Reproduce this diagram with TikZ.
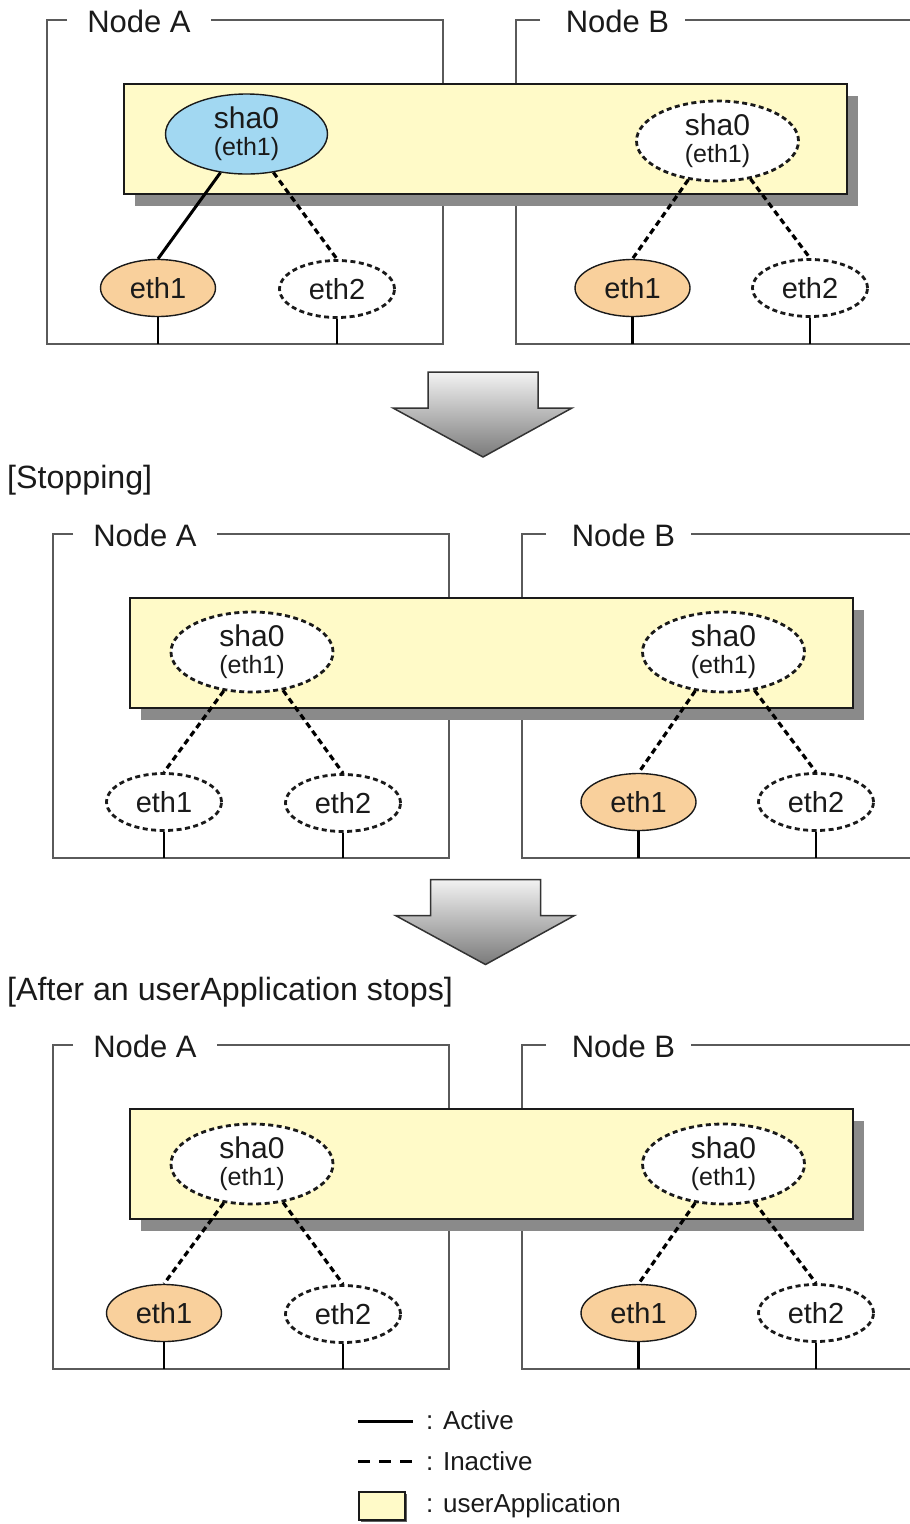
\documentclass[tikz,border=0pt]{standalone}
\usepackage{fontspec}
\setmainfont{Liberation Sans}
\usetikzlibrary{shapes.geometric}
\definecolor{txt}{HTML}{1A1A1A}
\definecolor{framegray}{HTML}{5A5A5A}
\definecolor{shadowgray}{HTML}{8A8A8A}
\definecolor{appyellow}{HTML}{FFFAC8}
\definecolor{shablue}{HTML}{A2D8F2}
\definecolor{ethorange}{HTML}{F9D09C}
\tikzset{
  frame/.style={draw=framegray, line width=2pt},
  nodelabel/.style={inner sep=0pt, text=txt, font=\fontsize{31}{33}\selectfont},
  app/.style={draw=txt, fill=appyellow, line width=1.6pt, inner sep=0pt},
  shabase/.style={ellipse, minimum width=162, minimum height=80, inner sep=0pt, align=center, text=txt, font=\fontsize{30}{27}\selectfont},
  shaon/.style={shabase, draw=txt, line width=1.4pt, fill=shablue},
  shaoff/.style={shabase, draw=txt, line width=2.8pt, dash pattern=on 5pt off 3.5pt, fill=white},
  ethbase/.style={ellipse, minimum width=115, minimum height=57, inner sep=0pt, text=txt, font=\fontsize{29}{30}\selectfont},
  ethon/.style={ethbase, draw=txt, line width=1.4pt, fill=ethorange},
  ethoff/.style={ethbase, draw=txt, line width=2.8pt, dash pattern=on 5pt off 3.5pt, fill=white},
  active/.style={draw=black, line width=3pt},
  inactive/.style={draw=black, line width=3.2pt, dash pattern=on 6pt off 4pt},
  stub/.style={draw=black, line width=2.8pt},
  steplabel/.style={anchor=west, inner sep=0pt, text=txt, font=\fontsize{32.2}{34}\selectfont},
  legendtext/.style={anchor=west, inner sep=0pt, text=txt, font=\fontsize{26}{28}\selectfont},
  bigarrow/.style={draw=black!80, line width=1.5pt, top color=white!95!black, bottom color=black!52}
}
\newcommand\shatext{sha0\\{\fontsize{25}{27}\selectfont(eth1)}}
\newcommand\panelframe[1]{%
  \node[nodelabel] (#1labA) at (139,21) {Node A};
  \node[nodelabel] (#1labB) at (617.5,21) {Node B};
  \coordinate (#1gA1) at (67,20); \coordinate (#1gA2) at (211,20);
  \coordinate (#1gB1) at (540,20); \coordinate (#1gB2) at (685,20);
  \coordinate (#1botA) at (47,344); \coordinate (#1botB) at (516,344);
  \draw[frame] (#1gA1) -- (47,20) -- (47,344) -- (443,344) -- (443,20) -- (#1gA2);
  \draw[frame] (#1gB1) -- (516,20) -- (516,344) -- (911,344);
  \draw[frame] (#1gB2) -- (911,20);
  \fill[shadowgray] (135,96) rectangle (858,206);
  \node[app, minimum width=723, minimum height=110, anchor=north west] (#1app) at (123,83) {};
}
\newcommand\panelstubs[1]{%
  \draw[stub] (#1A1.south) -- (#1A1.south |- #1botA);
  \draw[stub] (#1A2.south) -- (#1A2.south |- #1botA);
  \draw[stub] (#1B1.south) -- (#1B1.south |- #1botB);
  \draw[stub] (#1B2.south) -- (#1B2.south |- #1botB);
}
\begin{document}
\begin{tikzpicture}[x=1pt, y=-1pt]
\useasboundingbox (0,0) rectangle (910,1524);

% ---------- panel 1 ----------
\begin{scope}
  \panelframe{p}
  \node[shaon]  (pSA) at (246.5,134) {\shatext};
  \node[shaoff] (pSB) at (717.5,141) {\shatext};
  \node[ethon]  (pA1) at (158,288) {eth1};
  \node[ethoff] (pA2) at (337,289) {eth2};
  \node[ethon]  (pB1) at (632.5,288) {eth1};
  \node[ethoff] (pB2) at (810,288) {eth2};
  \draw[active]   (pSA.236) -- (pA1.north);
  \draw[inactive] (pSA.-55) -- (pA2.north);
  \draw[inactive] (pSB.233) -- (pB1.north);
  \draw[inactive] (pSB.-49) -- (pB2.north);
  \panelstubs{p}
\end{scope}

% arrow 1
\path[bigarrow] (428,372) -- (538,372) -- (538,408) -- (572,408) -- (483,457) -- (393,408) -- (428,408) -- cycle;

\node[steplabel] (stepA) at (7,480) {[Stopping]};

% ---------- panel 2 ----------
\begin{scope}[shift={(6,514)}]
  \panelframe{q}
  \node[shaoff] (qSA) at (246,138) {\shatext};
  \node[shaoff] (qSB) at (717.5,138) {\shatext};
  \node[ethoff] (qA1) at (158,288) {eth1};
  \node[ethoff] (qA2) at (337,289) {eth2};
  \node[ethon]  (qB1) at (632.5,288) {eth1};
  \node[ethoff] (qB2) at (810,288) {eth2};
  \draw[inactive] (qSA.234) -- (qA1.north);
  \draw[inactive] (qSA.-51) -- (qA2.north);
  \draw[inactive] (qSB.234) -- (qB1.north);
  \draw[inactive] (qSB.-51) -- (qB2.north);
  \panelstubs{q}
\end{scope}

% arrow 2
\path[bigarrow] (430.5,879.5) -- (540.5,879.5) -- (540.5,915.5) -- (574.5,915.5) -- (485.5,964.5) -- (395.5,915.5) -- (430.5,915.5) -- cycle;

\node[steplabel] (stepB) at (7,992) {[After an userApplication stops]};

% ---------- panel 3 ----------
\begin{scope}[shift={(6,1025)}]
  \panelframe{r}
  \node[shaoff] (rSA) at (246,139) {\shatext};
  \node[shaoff] (rSB) at (717.5,139) {\shatext};
  \node[ethon]  (rA1) at (158,288) {eth1};
  \node[ethoff] (rA2) at (337,289) {eth2};
  \node[ethon]  (rB1) at (632.5,288) {eth1};
  \node[ethoff] (rB2) at (810,288) {eth2};
  \draw[inactive] (rSA.234) -- (rA1.north);
  \draw[inactive] (rSA.-51) -- (rA2.north);
  \draw[inactive] (rSB.234) -- (rB1.north);
  \draw[inactive] (rSB.-51) -- (rB2.north);
  \panelstubs{r}
\end{scope}

% ---------- legend ----------
\coordinate (l1a) at (358,1421); \coordinate (l1b) at (413,1421);
\draw[active] (l1a) -- (l1b);
\node[legendtext] (lt1) at (426,1420) {: Active};
\coordinate (l2a) at (358,1461); \coordinate (l2b) at (413,1461);
\draw[draw=black, line width=3pt, dash pattern=on 12pt off 9pt] (l2a) -- (l2b);
\node[legendtext] (lt2) at (426,1461) {: Inactive};
\fill[shadowgray!70!black] (361,1494) rectangle (407,1522);
\node[app, minimum width=46, minimum height=28, anchor=north west] (lbox) at (358,1491) {};
\node[legendtext] (lt3) at (426,1506) {: userApplication};
\end{tikzpicture}
\end{document}
